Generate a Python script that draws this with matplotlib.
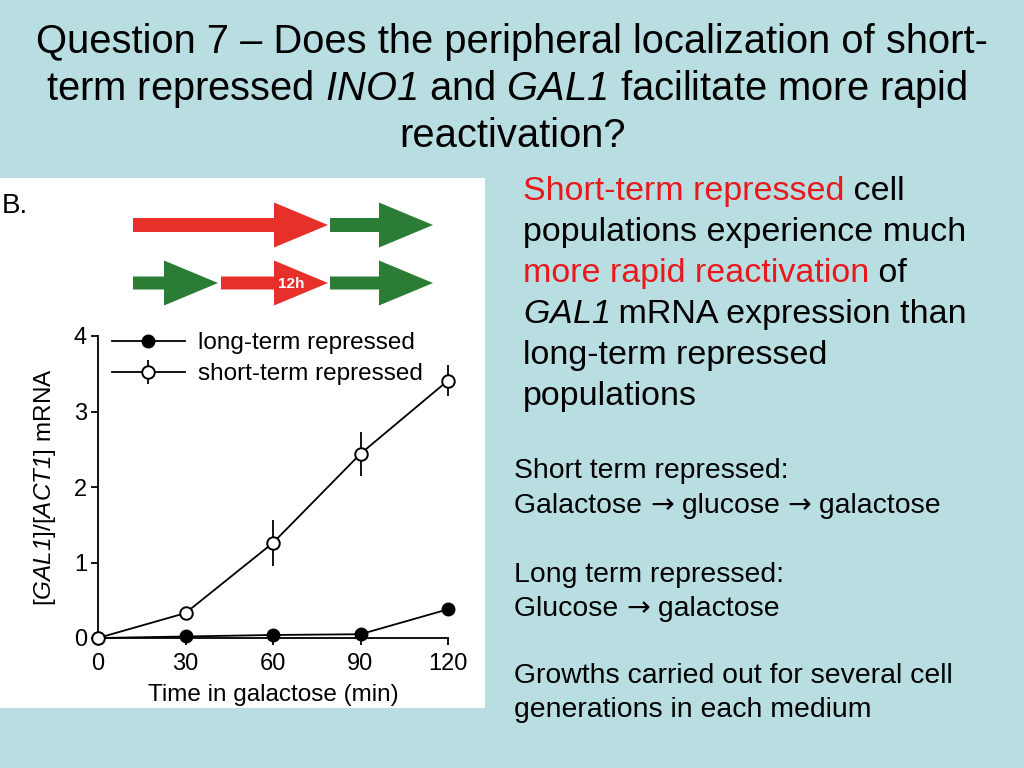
import matplotlib
matplotlib.use("Agg")
import matplotlib.pyplot as plt
from matplotlib.patches import FancyArrow, Rectangle

plt.rcParams['font.family'] = ['Liberation Sans', 'DejaVu Sans']
plt.rcParams['mathtext.fontset'] = 'custom'
# math parts are only gene names, so everything in math is italic
plt.rcParams['mathtext.rm'] = 'Liberation Sans:italic'
plt.rcParams['mathtext.it'] = 'Liberation Sans:italic'

# data
times = [0, 30, 60, 90, 120]
long_term = [0.0, 0.02, 0.04, 0.05, 0.38]
short_term = [0.0, 0.33, 1.26, 2.44, 3.41]
short_err = [0.0, 0.0, 0.30, 0.29, 0.20]
series_names = ["long-term repressed", "short-term repressed"]
xticks = [0, 30, 60, 90, 120]
yticks = [0, 1, 2, 3, 4]

bg = "#b9dee2"
red = "#e8302a"
green = "#2b7d35"
txtred = "#e8191c"

fig = plt.figure(figsize=(10.24, 7.68), dpi=100, facecolor=bg)

# overlay in pixel coords for slide stuff
ov = fig.add_axes([0, 0, 1, 1])
ov.set_xlim(0, 1024)
ov.set_ylim(768, 0)
ov.axis("off")

ov.add_patch(Rectangle((0, 178), 485, 530, facecolor="white", edgecolor="none"))

# title
tsize = 28.7
ov.text(512, 53, "Question 7 \u2013 Does the peripheral localization of short-",
        ha="center", va="baseline", fontsize=tsize)
ov.text(507, 100, r"term repressed $INO1$ and $GAL1$ facilitate more rapid",
        ha="center", va="baseline", fontsize=tsize)
ov.text(512, 147, "reactivation?", ha="center", va="baseline", fontsize=tsize)

# arrows diagram
ov.text(2, 213, "B.", fontsize=20, va="baseline")
def arrow(x0, x1, y, col, shaft=14, head=45, hl=54):
    ov.add_patch(FancyArrow(x0, y, x1 - x0, 0, width=shaft, head_width=head,
                            head_length=hl, length_includes_head=True,
                            color=col, linewidth=0))
arrow(133, 328, 225, red)
arrow(330, 433, 225, green)
arrow(133, 218, 283, green, shaft=13)
arrow(221, 328, 283, red, shaft=13)
arrow(330, 433, 283, green, shaft=13)
ov.text(291, 284, "12h", color="white", fontsize=11, fontweight="bold",
        ha="center", va="center")

# right side text, built from pieces
def line(x, y, parts, fs):
    t = ov.text(x, y, parts[0][0], color=parts[0][1], fontsize=fs, va="baseline")
    for p in parts[1:]:
        fam = p[2] if len(p) > 2 else None
        t = ov.annotate(p[0], xy=(1, 0), xycoords=t, color=p[1], fontsize=fs,
                        va="bottom", family=fam)
    return t

rs = 24.5
line(523, 200, [("Short-term repressed", txtred), (" cell", "black")], rs)
line(523, 241, [("populations experience much", "black")], rs)
line(523, 282, [("more rapid reactivation", txtred), (" of", "black")], rs)
line(523, 323, [(r"$GAL1$", "black"), (" mRNA expression than", "black")], rs)
line(523, 364, [("long-term repressed", "black")], rs)
line(523, 405, [("populations", "black")], rs)

ls = 20.4
arr = "DejaVu Sans"
line(514, 478, [("Short term repressed:", "black")], ls)
line(514, 513, [("Galactose ", "black"), ("\u2192", "black", arr), (" glucose ", "black"),
                ("\u2192", "black", arr), (" galactose", "black")], ls)
line(514, 582, [("Long term repressed:", "black")], ls)
line(514, 616, [("Glucose ", "black"), ("\u2192", "black", arr), (" galactose", "black")], ls)
line(514, 683, [("Growths carried out for several cell", "black")], ls)
line(514, 717, [("generations in each medium", "black")], ls)

# the chart
ax = fig.add_axes([98 / 1024, (768 - 638) / 768, 350 / 1024, 302 / 768])
ax.set_facecolor("none")
ax.set_xlim(0, 120)
ax.set_ylim(0, 4)

ax.errorbar(times, short_term, yerr=short_err, color="black", lw=1.3,
            elinewidth=1.3, capsize=0, marker="o", ms=9, mfc="white",
            mec="black", mew=1.4, label=series_names[1], zorder=3, clip_on=False)
ax.plot(times, long_term, color="black", lw=1.3, marker="o", ms=9,
        mfc="black", mec="black", label=series_names[0], zorder=2, clip_on=False)

for sp in ["top", "right"]:
    ax.spines[sp].set_visible(False)
for sp in ["left", "bottom"]:
    ax.spines[sp].set_linewidth(1.3)
ax.set_xticks(xticks)
ax.set_yticks(yticks)
ax.tick_params(labelsize=17, length=5, width=1.3, pad=3)
ax.tick_params(axis="x", pad=6)
ax.set_xlabel("Time in galactose (min)", fontsize=17.5, labelpad=6)
ax.set_ylabel(r"[$GAL1$]/[$ACT1$] mRNA", fontsize=17.5, labelpad=11)

h, l = ax.get_legend_handles_labels()
order = [l.index(series_names[0]), l.index(series_names[1])]
ax.legend([h[i] for i in order], [l[i] for i in order], loc="upper left",
          bbox_to_anchor=(112 / 1024, 1 - 332 / 768), bbox_transform=fig.transFigure,
          frameon=False, fontsize=17.5, handlelength=3.0, handletextpad=0.55,
          borderpad=0, borderaxespad=0, labelspacing=0.38)

fig.savefig("out.png", dpi=100, facecolor=bg)
